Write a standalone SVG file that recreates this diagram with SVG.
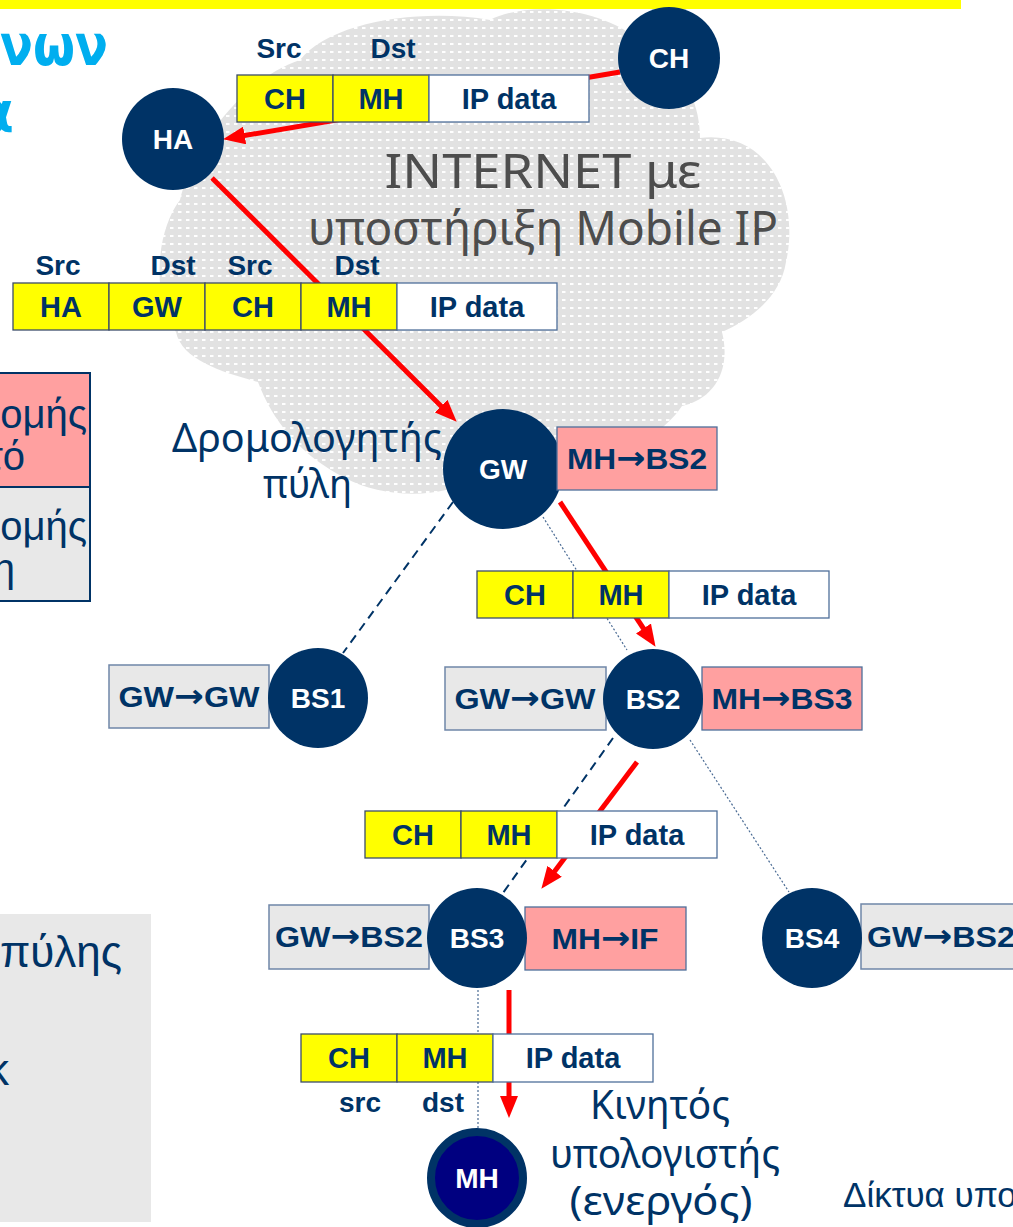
<svg xmlns="http://www.w3.org/2000/svg" width="1013" height="1227" viewBox="0 0 1013 1227">
<defs>
<pattern id="dots" width="8" height="8" patternUnits="userSpaceOnUse">
<rect width="8" height="8" fill="#e2e2e2"/>
<rect x="2" y="3" width="3.5" height="2" fill="#ffffff"/>
</pattern>
<marker id="ah" markerUnits="userSpaceOnUse" viewBox="0 0 22 18" markerWidth="22" markerHeight="18" refX="9" refY="9" orient="auto">
<path d="M0,0 L22,9 L0,18 Z" fill="#ff0000"/>
</marker>
</defs>
<style>
.node{fill:#003366}
.nt{font-family:"Liberation Sans",Arial,sans-serif;font-weight:bold;font-size:28px;fill:#ffffff;text-anchor:middle}
.bt{font-family:"Liberation Sans",Arial,sans-serif;font-weight:bold;font-size:29px;fill:#003366;text-anchor:middle}
.ar{font-family:"DejaVu Sans",sans-serif;font-weight:bold;font-size:32px}
.lb{font-family:"Liberation Sans",Arial,sans-serif;font-weight:bold;font-size:28px;fill:#003366;text-anchor:middle}
.y{fill:#ffff00;stroke:#3c4d6a;stroke-width:1.3}
.w{fill:#ffffff;stroke:#4f6f9a;stroke-width:1.3}
.p{fill:#ffa0a0;stroke:#4f6f9a;stroke-width:1.3}
.g{fill:#e8e8e8;stroke:#6f86a8;stroke-width:1.5}
.red{stroke:#ff0000;stroke-width:5;fill:none;marker-end:url(#ah)}
.dash{stroke:#003366;stroke-width:2;stroke-dasharray:9 6;fill:none}
.dot{stroke:#4a6b94;stroke-width:1.2;stroke-dasharray:2 2;fill:none}
.hand{font-family:"Noto Sans","DejaVu Sans",sans-serif;fill:#003366}
.side{font-family:"Liberation Sans",Arial,sans-serif;fill:#003366}
</style>

<!-- top bar -->
<rect x="0" y="0" width="961" height="9" fill="#ffff00"/>

<!-- cloud -->
<path id="cloud" d="M300,60 C330,22 420,8 490,20 C520,4 590,2 640,40 C690,70 700,110 700,138 C770,130 800,200 786,262 C780,300 745,322 722,332 C732,372 712,400 682,406 C640,468 520,480 470,480 C440,500 380,497 345,478 C300,455 272,420 258,382 C222,372 182,360 176,332 C152,300 155,232 180,200 C192,150 240,80 300,60 Z" fill="url(#dots)"/>
<text x="543" y="188" class="hand" font-size="48" style="fill:#4d4d4d" text-anchor="middle" textLength="317" lengthAdjust="spacingAndGlyphs">INTERNET με</text>
<text x="543" y="245" class="hand" font-size="48" style="fill:#4d4d4d" text-anchor="middle" textLength="470" lengthAdjust="spacingAndGlyphs">υποστήριξη Mobile IP</text>

<!-- left partial content -->
<text x="108" y="65" font-family="DejaVu Sans, sans-serif" font-weight="bold" font-size="56" fill="#00aeef" text-anchor="end" textLength="108" lengthAdjust="spacingAndGlyphs">νων</text>
<text x="14" y="132" font-family="DejaVu Sans, sans-serif" font-weight="bold" font-size="56" fill="#00aeef" text-anchor="end">α</text>
<g id="left-table">
<rect x="-4" y="373" width="94" height="114" fill="#ffa0a0" stroke="#003366" stroke-width="2"/>
<rect x="-4" y="487" width="94" height="114" fill="#e8e8e8" stroke="#003366" stroke-width="2"/>
<text x="87" y="428" class="side" font-size="40" text-anchor="end">ομής</text>
<text x="25" y="470" class="side" font-size="40" text-anchor="end">τό</text>
<text x="87" y="540" class="side" font-size="40" text-anchor="end">ομής</text>
<text x="15" y="582" class="side" font-size="40" text-anchor="end">η</text>
</g>
<g id="left-panel">
<rect x="0" y="914" width="151" height="308" fill="#e8e8e8"/>
<text x="122" y="967" class="side" font-size="44" text-anchor="end">πύλης</text>
<text x="9" y="1085" class="side" font-size="44" text-anchor="end">κ</text>
</g>

<!-- connectors -->
<g id="connectors">
<line class="dash" x1="453" y1="502" x2="343" y2="653"/>
<line class="dot" x1="543" y1="517" x2="627" y2="650"/>
<line class="dash" x1="613" y1="738" x2="503" y2="893"/>
<line class="dot" x1="690" y1="740" x2="789" y2="892"/>
<line class="dot" x1="478" y1="990" x2="478" y2="1128"/>
<line class="red" x1="620" y1="72" x2="235.8" y2="137"/>
<line class="red" x1="212" y1="178" x2="447.5" y2="412.5"/>
<line class="red" x1="560" y1="502" x2="648.4" y2="636"/>
<line class="red" x1="637" y1="762" x2="549.2" y2="878.4"/>
<line class="red" x1="509" y1="990" x2="509" y2="1105"/>
</g>

<!-- packets -->
<g id="packet-ch-ha">
<text x="279" y="58" class="lb">Src</text>
<text x="393" y="58" class="lb">Dst</text>
<rect class="y" x="237" y="75" width="96" height="47"/>
<rect class="y" x="333" y="75" width="96" height="47"/>
<rect class="w" x="429" y="75" width="160" height="47"/>
<text x="285" y="109" class="bt">CH</text>
<text x="381" y="109" class="bt">MH</text>
<text x="509" y="109" class="bt">IP data</text>
</g>
<g id="packet-ha-gw">
<text x="58" y="275" class="lb">Src</text>
<text x="173" y="275" class="lb">Dst</text>
<text x="250" y="275" class="lb">Src</text>
<text x="357" y="275" class="lb">Dst</text>
<rect class="y" x="13" y="283" width="96" height="47"/>
<rect class="y" x="109" y="283" width="96" height="47"/>
<rect class="y" x="205" y="283" width="96" height="47"/>
<rect class="y" x="301" y="283" width="96" height="47"/>
<rect class="w" x="397" y="283" width="160" height="47"/>
<text x="61" y="317" class="bt">HA</text>
<text x="157" y="317" class="bt">GW</text>
<text x="253" y="317" class="bt">CH</text>
<text x="349" y="317" class="bt">MH</text>
<text x="477" y="317" class="bt">IP data</text>
</g>
<g id="packet-gw-bs2">
<rect class="y" x="477" y="571" width="96" height="47"/>
<rect class="y" x="573" y="571" width="96" height="47"/>
<rect class="w" x="669" y="571" width="160" height="47"/>
<text x="525" y="605" class="bt">CH</text>
<text x="621" y="605" class="bt">MH</text>
<text x="749" y="605" class="bt">IP data</text>
</g>
<g id="packet-bs2-bs3">
<rect class="y" x="365" y="811" width="96" height="47"/>
<rect class="y" x="461" y="811" width="96" height="47"/>
<rect class="w" x="557" y="811" width="160" height="47"/>
<text x="413" y="845" class="bt">CH</text>
<text x="509" y="845" class="bt">MH</text>
<text x="637" y="845" class="bt">IP data</text>
</g>
<g id="packet-bs3-mh">
<rect class="y" x="301" y="1034" width="96" height="48"/>
<rect class="y" x="397" y="1034" width="96" height="48"/>
<rect class="w" x="493" y="1034" width="160" height="48"/>
<text x="349" y="1068" class="bt">CH</text>
<text x="445" y="1068" class="bt">MH</text>
<text x="573" y="1068" class="bt">IP data</text>
<text x="360" y="1112" class="lb">src</text>
<text x="443" y="1112" class="lb">dst</text>
</g>

<!-- nodes -->
<g id="node-ch">
<circle class="node" cx="669" cy="58" r="51"/>
<text x="669" y="68" class="nt">CH</text>
</g>
<g id="node-ha">
<circle class="node" cx="173" cy="139" r="51"/>
<text x="173" y="149" class="nt">HA</text>
</g>
<g id="node-gw">
<text x="172" y="452" class="hand" font-size="40" textLength="270" lengthAdjust="spacingAndGlyphs">Δρομολογητής</text>
<text x="263" y="498" class="hand" font-size="40" textLength="89" lengthAdjust="spacingAndGlyphs">πύλη</text>
<circle class="node" cx="503" cy="469" r="60"/>
<text x="503" y="479" class="nt">GW</text>
<rect class="p" x="557" y="427" width="160" height="63"/>
<text x="637" y="469" class="bt" textLength="140" lengthAdjust="spacingAndGlyphs">MH<tspan class="ar">→</tspan>BS2</text>
</g>
<g id="node-bs1">
<rect class="g" x="109" y="665" width="160" height="63"/>
<text x="189" y="707" class="bt" textLength="141" lengthAdjust="spacingAndGlyphs">GW<tspan class="ar">→</tspan>GW</text>
<circle class="node" cx="318" cy="698" r="50"/>
<text x="318" y="708" class="nt">BS1</text>
</g>
<g id="node-bs2">
<rect class="g" x="445" y="667" width="161" height="63"/>
<text x="525" y="709" class="bt" textLength="141" lengthAdjust="spacingAndGlyphs">GW<tspan class="ar">→</tspan>GW</text>
<rect class="p" x="702" y="667" width="160" height="63"/>
<text x="782" y="709" class="bt" textLength="141" lengthAdjust="spacingAndGlyphs">MH<tspan class="ar">→</tspan>BS3</text>
<circle class="node" cx="653" cy="699" r="50"/>
<text x="653" y="709" class="nt">BS2</text>
</g>
<g id="node-bs3">
<rect class="g" x="269" y="905" width="160" height="64"/>
<text x="349" y="947" class="bt" textLength="148" lengthAdjust="spacingAndGlyphs">GW<tspan class="ar">→</tspan>BS2</text>
<rect class="p" x="525" y="907" width="161" height="63"/>
<text x="605" y="949" class="bt" textLength="107" lengthAdjust="spacingAndGlyphs">MH<tspan class="ar">→</tspan>IF</text>
<circle class="node" cx="477" cy="938" r="50"/>
<text x="477" y="948" class="nt">BS3</text>
</g>
<g id="node-bs4">
<rect class="g" x="861" y="904" width="170" height="65"/>
<text x="867" y="947" class="bt" style="text-anchor:start" textLength="148" lengthAdjust="spacingAndGlyphs">GW<tspan class="ar">→</tspan>BS2</text>
<circle class="node" cx="812" cy="938" r="50"/>
<text x="812" y="948" class="nt">BS4</text>
</g>
<g id="node-mh">
<circle cx="477" cy="1178" r="46" fill="#000080" stroke="#003366" stroke-width="8"/>
<text x="477" y="1188" class="nt">MH</text>
<text x="660" y="1119" class="hand" font-size="40" text-anchor="middle" textLength="140" lengthAdjust="spacingAndGlyphs">Κινητός</text>
<text x="665" y="1168" class="hand" font-size="40" text-anchor="middle" textLength="230" lengthAdjust="spacingAndGlyphs">υπολογιστής</text>
<text x="661" y="1215" class="hand" font-size="40" text-anchor="middle" textLength="183" lengthAdjust="spacingAndGlyphs">(ενεργός)</text>
</g>
<text x="843" y="1207" class="side" font-size="35">Δίκτυα υπο</text>
</svg>
